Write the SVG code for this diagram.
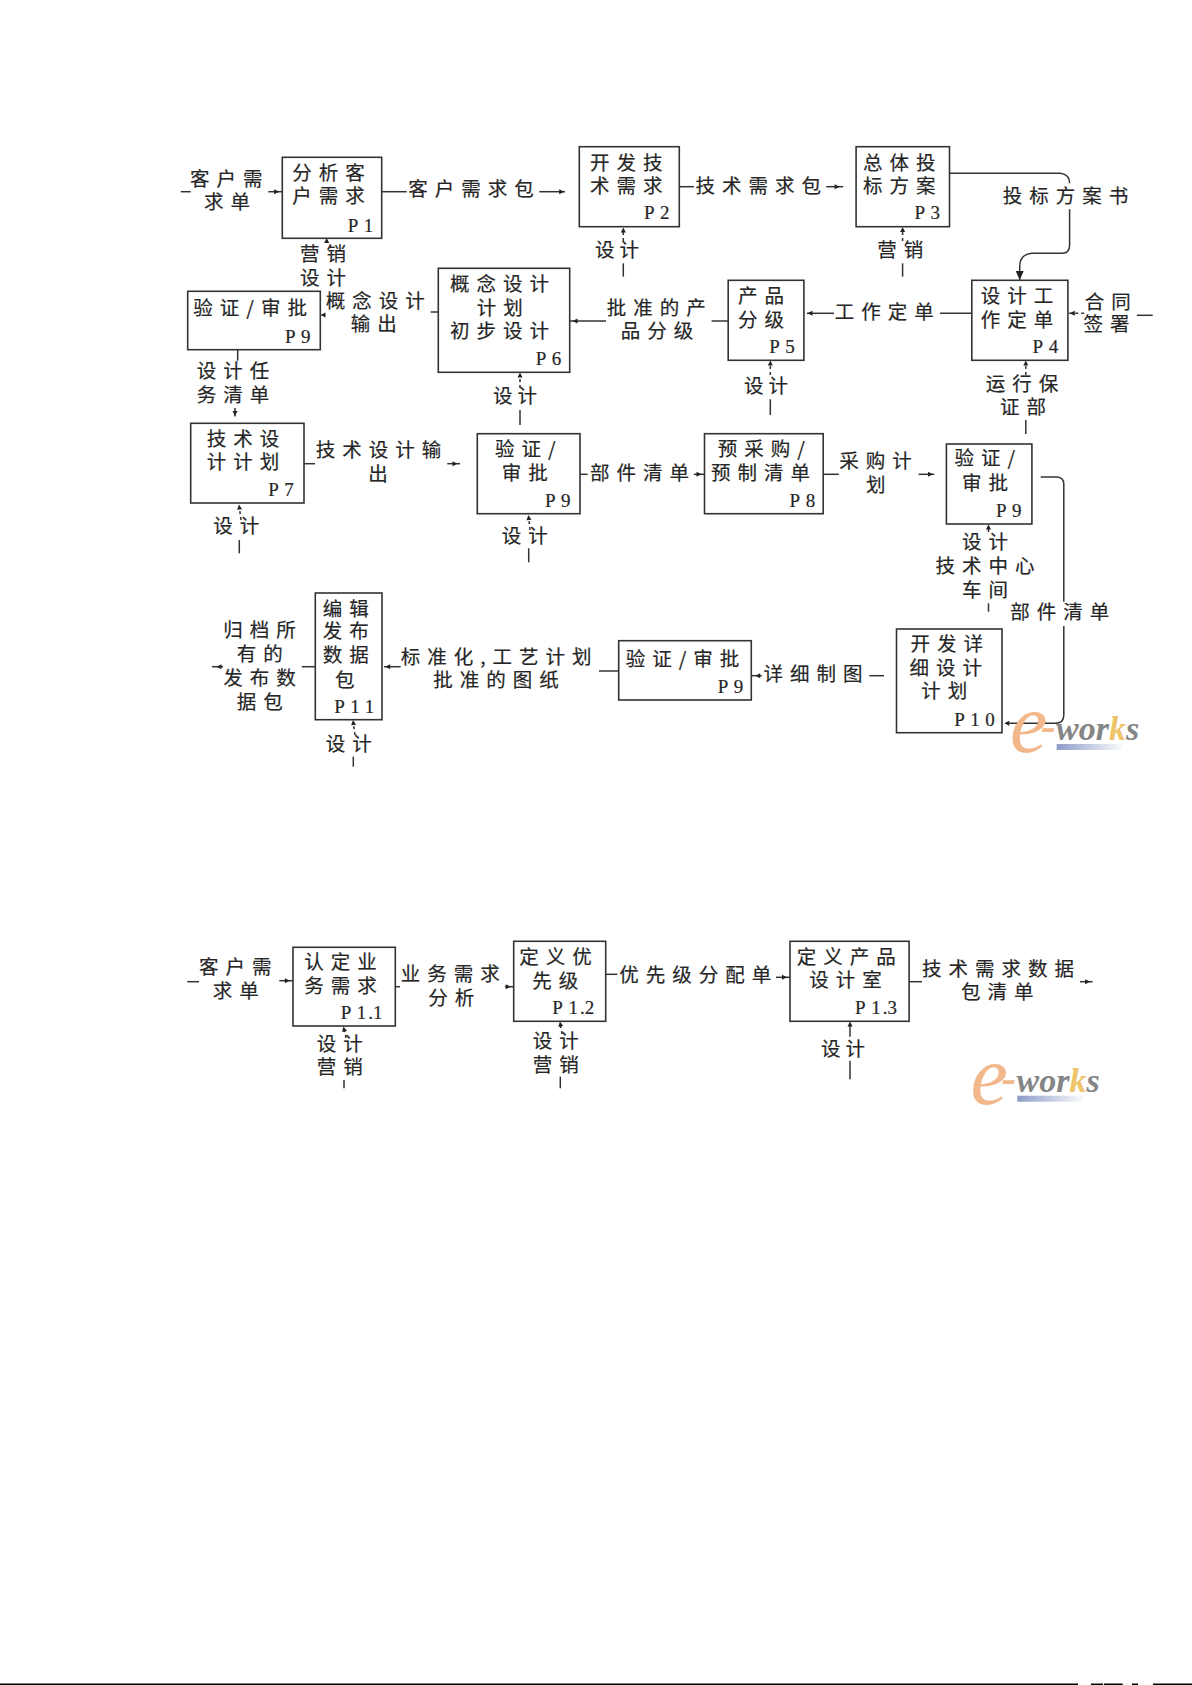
<svg xmlns="http://www.w3.org/2000/svg" width="1192" height="1685" viewBox="0 0 1192 1685">
<style>
text{font-family:"Noto Sans CJK SC","Noto Sans CJK TC",sans-serif;font-size:19.5px;letter-spacing:7px;fill:#262626;stroke:#262626;stroke-width:.2}
text.t{letter-spacing:5px}
text.p{font-family:"Liberation Serif",serif;letter-spacing:5.5px;font-size:19px}
tspan.n{letter-spacing:2px}
tspan.o{letter-spacing:0}
rect.b{fill:#fff;stroke:#333;stroke-width:1.6}
.c{fill:none;stroke:#333;stroke-width:1.5}
.h{marker-mid:url(#dot)}
.e{marker-end:url(#dot)}
.d{stroke-dasharray:3 3}
.big{marker-end:url(#big)}
text.lg{font-family:"Liberation Serif",serif;font-weight:bold;font-style:italic;font-size:34px;letter-spacing:0;fill:#858585;stroke:none}
</style>
<defs>
<marker id="dot" viewBox="0 0 6 6" refX="3" refY="3" markerWidth="6" markerHeight="6" markerUnits="userSpaceOnUse" orient="auto"><path d="M0.5 0.5L5.5 3L0.5 5.5Z" fill="#222"/></marker>
<marker id="big" viewBox="0 0 10 8" refX="9" refY="4" markerWidth="10" markerHeight="8" markerUnits="userSpaceOnUse" orient="auto"><path d="M0 0L9 4L0 8Z" fill="#222"/></marker>
<linearGradient id="bar"><stop offset="0" stop-color="#8c9cc8"/><stop offset="1" stop-color="#8c9cc8" stop-opacity="0.05"/></linearGradient>
<g id="logo">
<rect x="1056.7" y="744" width="66" height="6" fill="url(#bar)"/>
<text class="lg"><tspan x="1010" y="752" style="font-size:84px;font-weight:normal;fill:#f2b88c">e</tspan><tspan x="1041" y="741" style="font-size:44px;fill:#f2b88c">-</tspan><tspan x="1056" y="740">wor</tspan><tspan style="fill:#eec468">k</tspan><tspan>s</tspan></text>
</g>
</defs>
<rect width="1192" height="1685" fill="#fff"/>

<g id="connectors">
<path class="c" d="M180.7 191.7H190.7"/>
<path class="c h" d="M268.3 191.7H276.7H282.3"/>
<path class="c" d="M381.7 191.7H406.7"/>
<path class="c h" d="M539.3 191.7H561.7H565"/>
<path class="c" d="M623.3 263.3V276.7"/>
<path class="c d e" d="M623.3 241V230"/>
<path class="c e" d="M326.7 243V240.5"/>
<path class="c" d="M430.7 312H438.3"/>
<path class="c e" d="M325 315H323"/>
<path class="c" d="M237.7 349.7V360.7"/>
<path class="c h" d="M235 408V413.5V416.5"/>
<path class="c" d="M520 410V425"/>
<path class="c d e" d="M520 388V375"/>
<path class="c h" d="M606 321H575H570"/>
<path class="c" d="M679.3 186.7H693.9"/>
<path class="c h" d="M826.3 186.7H837.1H843.2"/>
<path class="c" d="M949.5 173.3H1060.4Q1069.6 174.5 1069.6 183.3"/>
<path class="c big" d="M1069.6 209.3V245Q1069.6 253.3 1062.1 253.3H1031.6Q1019.7 254.5 1019.7 266.7V280"/>
<path class="c" d="M902.6 263.3V276.7"/>
<path class="c d e" d="M902.6 241V229.5"/>
<path class="c" d="M711.6 321H728.2"/>
<path class="c" d="M939.9 313.3H971.8"/>
<path class="c h" d="M834 313.3H810H807"/>
<path class="c d h" d="M1084.2 313.3H1072.3H1068.9"/>
<path class="c" d="M1136.8 315.3H1152.7"/>
<path class="c" d="M770.3 399.3V415"/>
<path class="c d e" d="M770.3 375V363"/>
<path class="c" d="M1025.8 420V434"/>
<path class="c d e" d="M1025.8 375V363"/>
<path class="c" d="M304 463.7H315"/>
<path class="c h" d="M447.3 463.7H455H460"/>
<path class="c" d="M239.3 540V553.3"/>
<path class="c d e" d="M241 520L239.3 507"/>
<path class="c" d="M528.7 548.3V562.3"/>
<path class="c d e" d="M530 530L528.7 517.5"/>
<path class="c" d="M580 474.3H587.7"/>
<path class="c" d="M353.3 756.7V766.7"/>
<path class="c d e" d="M355 735L353.3 722.5"/>
<path class="c" d="M301.7 666.7H315.3"/>
<path class="c h" d="M223 666.7H219H212"/>
<path class="c" d="M599 671H618.7"/>
<path class="c h" d="M400.7 666.7H387.7H384"/>
<path class="c h" d="M693.9 474.3H699H704.5"/>
<path class="c" d="M823.2 474.3H838.8"/>
<path class="c h" d="M918.6 474.3H930.5H934.2"/>
<path class="c" d="M988.5 603.3V611.7"/>
<path class="c e" d="M988.5 532V527"/>
<path class="c" d="M1040.7 477H1057Q1063.8 477.5 1063.8 484V601.7"/>
<path class="c" d="M1063.8 626V715Q1063.8 723.3 1055.3 723.3H1009.5"/>
<path class="c e" d="M1009.5 723.3H1006.8"/>
<path class="c" d="M869.4 675.7H884"/>
<path class="c h" d="M761.8 675.7H757.7H751.6"/>
<path class="c" d="M187.3 981.7H199"/>
<path class="c h" d="M279.3 980.7H287.3H293"/>
<path class="c" d="M395.3 986.7H400"/>
<path class="c h" d="M505 986.7H508.3H513.7"/>
<path class="c" d="M344 1080V1088.3"/>
<path class="c d e" d="M346 1038L344 1029"/>
<path class="c" d="M560.3 1076.7V1088.3"/>
<path class="c d e" d="M562 1034L560.3 1024"/>
<path class="c" d="M605.7 974.3H617.3"/>
<path class="c h" d="M776 977.3H784.5H790"/>
<path class="c" d="M909 981.7H922"/>
<path class="c h" d="M1080 981.7H1087.6H1092.6"/>
<path class="c e" d="M850 1036.7V1024"/>
<path class="c" d="M850 1060.7V1079.3"/>
</g>

<g id="labels">
<text><tspan x="190" y="185.5">客户需</tspan><tspan x="204" y="208.5">求单</tspan></text>
<text x="408.3" y="196">客户需求包</text>
<text class="t" x="595" y="257">设计</text>
<text><tspan x="300" y="260.5">营销</tspan><tspan x="300" y="284.5">设计</tspan></text>
<text><tspan x="325.7" y="307.5">概念设计</tspan><tspan x="350.7" y="331">输出</tspan></text>
<text><tspan x="196.7" y="378">设计任</tspan><tspan x="196.7" y="402">务清单</tspan></text>
<text><tspan x="606.7" y="315">批准的产</tspan><tspan x="620.7" y="338">品分级</tspan></text>
<text class="t" x="493" y="403">设计</text>
<text x="695.6" y="193">技术需求包</text>
<text x="1002.7" y="203">投标方案书</text>
<text x="877.2" y="257">营销</text>
<text x="834.8" y="319">工作定单</text>
<text><tspan x="1084.8" y="309">合同</tspan><tspan x="1083.5" y="330.5">签署</tspan></text>
<text class="t" x="744" y="393">设计</text>
<text><tspan x="985.8" y="391">运行保</tspan><tspan x="1000" y="414">证部</tspan></text>
<text><tspan x="315.7" y="457">技术设计输</tspan><tspan x="368.3" y="480.5">出</tspan></text>
<text x="590" y="480">部件清单</text>
<text x="213.3" y="533">设计</text>
<text x="501.7" y="543">设计</text>
<text><tspan x="839.2" y="468">采购计</tspan><tspan x="866" y="492">划</tspan></text>
<text><tspan x="962" y="549">设计</tspan><tspan x="935.5" y="573">技术中心</tspan><tspan x="962" y="597">车间</tspan></text>
<text x="1010.2" y="619">部件清单</text>
<text x="325.7" y="750.5">设计</text>
<text><tspan x="223.3" y="637">归档所</tspan><tspan x="236.7" y="660.5">有的</tspan><tspan x="223.3" y="685">发布数</tspan><tspan x="236.7" y="709">据包</tspan></text>
<text><tspan x="400.7" y="664">标准化,工艺计划</tspan><tspan x="433.3" y="686.5">批准的图纸</tspan></text>
<text x="763.5" y="680.5">详细制图</text>
<text><tspan x="199" y="974">客户需</tspan><tspan x="212.7" y="998">求单</tspan></text>
<text><tspan x="400.7" y="980.5">业务需求</tspan><tspan x="428.3" y="1004.5">分析</tspan></text>
<text><tspan x="316.7" y="1051">设计</tspan><tspan x="316.7" y="1074">营销</tspan></text>
<text><tspan x="532.7" y="1048">设计</tspan><tspan x="532.7" y="1072">营销</tspan></text>
<text x="619.3" y="982">优先级分配单</text>
<text><tspan x="922" y="976">技术需求数据</tspan><tspan x="961" y="999">包清单</tspan></text>
<text class="t" x="821" y="1055.5">设计</text>
</g>

<g id="P1"><rect class="b" x="282.3" y="157.3" width="99.4" height="81"/><text><tspan x="292.3" y="179.5">分析客</tspan><tspan x="292.3" y="203">户需求</tspan></text><text class="p" x="347.7" y="231.7">P1</text></g>
<g id="P2"><rect class="b" x="579.3" y="146.7" width="100" height="80"/><text><tspan x="590" y="169.5">开发技</tspan><tspan x="590" y="193">术需求</tspan></text><text class="p" x="644" y="219.3">P2</text></g>
<g id="P3"><rect class="b" x="856.1" y="146.7" width="93.4" height="80"/><text><tspan x="862.9" y="169.5">总体投</tspan><tspan x="862.9" y="193">标方案</tspan></text><text class="p" x="914.5" y="219.3">P3</text></g>
<g id="P4"><rect class="b" x="971.8" y="280.3" width="96.1" height="80"/><text><tspan x="980.7" y="303">设计工</tspan><tspan x="980.7" y="327">作定单</tspan></text><text class="p" x="1032.6" y="352.7">P4</text></g>
<g id="P5"><rect class="b" x="728.2" y="280.3" width="75.7" height="80"/><text><tspan x="738" y="303">产品</tspan><tspan x="738" y="327">分级</tspan></text><text class="p" x="769.3" y="352.7">P5</text></g>
<g id="P6"><rect class="b" x="438.3" y="268.3" width="131.4" height="104"/><text><tspan x="450" y="291">概念设计</tspan><tspan x="476.7" y="315">计划</tspan><tspan x="450" y="338">初步设计</tspan></text><text class="p" x="535.7" y="365">P6</text></g>
<g id="P9a"><rect class="b" x="187.7" y="291.3" width="132.6" height="58.4"/><text x="193.3" y="315">验证/审批</text><text class="p" x="285" y="342.7">P9</text></g>
<g id="P7"><rect class="b" x="190.7" y="423.3" width="113.3" height="79.7"/><text><tspan x="206.7" y="445.5">技术设</tspan><tspan x="206.7" y="469">计计划</tspan></text><text class="p" x="268.3" y="496">P7</text></g>
<g id="P9b"><rect class="b" x="477.3" y="433.7" width="102.7" height="80"/><text><tspan x="495" y="456">验证/</tspan><tspan x="501.7" y="480">审批</tspan></text><text class="p" x="545" y="506.7">P9</text></g>
<g id="P8"><rect class="b" x="704.5" y="433.7" width="118.7" height="80"/><text><tspan x="717.7" y="456">预采购/</tspan><tspan x="710.9" y="480">预制清单</tspan></text><text class="p" x="789.6" y="506.7">P8</text></g>
<g id="P9c"><rect class="b" x="946.4" y="444" width="85.5" height="80"/><text><tspan x="954.5" y="465">验证/</tspan><tspan x="962" y="489.5">审批</tspan></text><text class="p" x="995.9" y="516.7">P9</text></g>
<g id="P11"><rect class="b" x="315.3" y="593" width="66.7" height="126.7"/><text><tspan x="322.7" y="615.5">编辑</tspan><tspan x="322.7" y="638">发布</tspan><tspan x="322.7" y="662">数据</tspan><tspan x="335" y="686.5">包</tspan></text><text class="p" x="334.3" y="713.3">P11</text></g>
<g id="P9d"><rect class="b" x="618.7" y="640.7" width="132.6" height="59.3"/><text x="625.7" y="665.5">验证/审批</text><text class="p" x="717.7" y="692.7">P9</text></g>
<g id="P10"><rect class="b" x="896.5" y="629" width="105.5" height="103.7"/><text><tspan x="910.4" y="650.5">开发详</tspan><tspan x="909.4" y="674.5">细设计</tspan><tspan x="921.3" y="698">计划</tspan></text><text class="p" x="954.2" y="726">P10</text></g>
<g id="P1-1"><rect class="b" x="293" y="947.3" width="102.3" height="78.7"/><text><tspan x="304.3" y="969">认定业</tspan><tspan x="304.3" y="993">务需求</tspan></text><text class="p" x="340.7" y="1019">P<tspan class="n">1</tspan><tspan class="o">.</tspan>1</text></g>
<g id="P1-2"><rect class="b" x="513.7" y="941.3" width="92" height="80"/><text><tspan x="519.3" y="964">定义优</tspan><tspan x="532.3" y="988">先级</tspan></text><text class="p" x="552.3" y="1014.3">P<tspan class="n">1</tspan><tspan class="o">.</tspan>2</text></g>
<g id="P1-3"><rect class="b" x="790" y="941.3" width="119.1" height="80"/><text><tspan x="796.8" y="964">定义产品</tspan><tspan x="809.3" y="987">设计室</tspan></text><text class="p" x="855.1" y="1014.3">P<tspan class="n">1</tspan><tspan class="o">.</tspan>3</text></g>

<g id="logo1"><use href="#logo"/></g>
<g id="logo2"><use href="#logo" x="-39.4" y="351.7"/></g>

<path d="M0 1684.3H1078M1091 1684.3H1103M1104 1684.3H1122.7M1132 1684.3H1138M1153 1684.3H1164M1164 1684.3H1192" stroke="#000" stroke-width="1.6" fill="none"/>
</svg>
